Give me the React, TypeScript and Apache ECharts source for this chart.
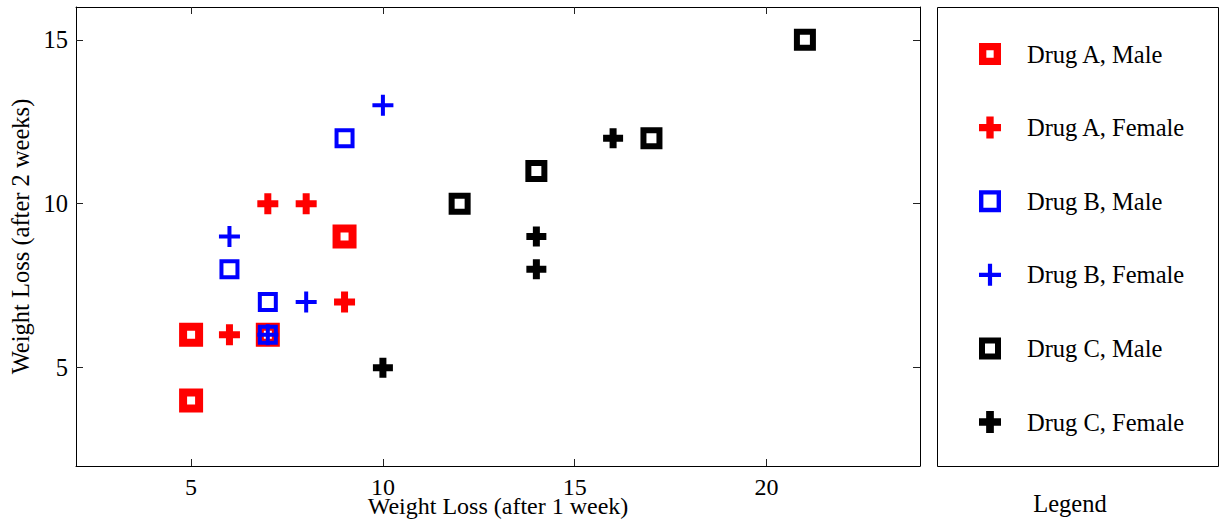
import React, { useEffect, useRef } from "react";
import * as echarts from "echarts";

const seriesNames = [
  "Drug A, Male",
  "Drug A, Female",
  "Drug B, Male",
  "Drug B, Female",
  "Drug C, Male",
  "Drug C, Female",
];

const drugAMale = [[5, 6], [5, 4], [7, 6], [9, 9]];
const drugAFemale = [[7, 10], [8, 10], [6, 6], [9, 7]];
const drugBMale = [[9, 12], [6, 8], [7, 7], [7, 6]];
const drugBFemale = [[10, 13], [6, 9], [8, 7], [7, 6]];
const drugCMale = [[21, 15], [17, 12], [14, 11], [12, 10]];
const drugCFemale = [[16, 12], [14, 9], [14, 8], [10, 5]];

const xTicks = [5, 10, 15, 20];
const yTicks = [5, 10, 15];

const FONT = "Liberation Serif";
const FS = 24.5;

const SQ_RED = "path://M0,0H24V24H0Z M8,8V16H16V8Z";
const SQ_BLUE = "path://M0,0H20V20H0Z M4,4V16H16V4Z";
const SQ_BLACK = "path://M0,0H22V22H0Z M6,6V16H16V6Z";
const PL_RED = "path://M7,0H14V7H21V14H14V21H7V14H0V7H7Z";
const PL_BLUE = "path://M8.5,0H12.5V8.5H21V12.5H12.5V21H8.5V12.5H0V8.5H8.5Z";
const PL_BLACK = "path://M6.5,0H13.5V6.5H20V13.5H13.5V20H6.5V13.5H0V6.5H6.5Z";

export default function App() {
  const ref = useRef<HTMLDivElement>(null);
  useEffect(() => {
    if (!ref.current) return;
    const chart = echarts.init(ref.current, undefined, { renderer: "svg" });
    const mk = (name: string, data: number[][], symbol: string, size: number, color: string) => ({
      name,
      type: "scatter",
      data,
      symbol,
      symbolSize: size,
      itemStyle: { color, opacity: 1 },
      emphasis: { disabled: true },
    });
    const baseAxisLine = { show: true, lineStyle: { color: "#000", width: 1 } };
    const tickStyle = { inside: true, length: 7, lineStyle: { color: "#222", width: 1 } };
    chart.setOption({
      animation: false,
      backgroundColor: "#fff",
      grid: { left: 76, top: 7, right: 300, bottom: 55, containLabel: false, outerBoundsMode: "none" },
      xAxis: [
        {
          type: "value",
          min: 2,
          max: 24,
          position: "bottom",
          axisLine: baseAxisLine,
          axisTick: { ...tickStyle, customValues: xTicks },
          axisLabel: {
            customValues: xTicks,
            color: "#000",
            fontFamily: FONT,
            fontSize: 24,
            lineHeight: 18,
            margin: 12,
          },
          splitLine: { show: false },
          name: "Weight Loss (after 1 week)",
          nameLocation: "middle",
          nameGap: 31,
          nameMoveOverlap: false,
          nameTextStyle: { color: "#000", fontFamily: FONT, fontSize: 24, lineHeight: 18 },
        },
        {
          type: "value",
          min: 2,
          max: 24,
          position: "top",
          axisLine: baseAxisLine,
          axisTick: { ...tickStyle, customValues: xTicks },
          axisLabel: { show: false },
          splitLine: { show: false },
        },
      ],
      yAxis: [
        {
          type: "value",
          min: 2,
          max: 16,
          position: "left",
          axisLine: baseAxisLine,
          axisTick: { ...tickStyle, customValues: yTicks },
          axisLabel: { customValues: yTicks, color: "#000", fontFamily: FONT, fontSize: FS, margin: 8 },
          splitLine: { show: false },
          name: "Weight Loss (after 2 weeks)",
          nameLocation: "middle",
          nameGap: 35,
          nameTextStyle: { color: "#000", fontFamily: FONT, fontSize: FS },
        },
        {
          type: "value",
          min: 2,
          max: 16,
          position: "right",
          axisLine: baseAxisLine,
          axisTick: { ...tickStyle, customValues: yTicks },
          axisLabel: { show: false },
          splitLine: { show: false },
        },
      ],
      legend: {
        orient: "vertical",
        left: 974,
        top: 36,
        itemWidth: 22,
        itemHeight: 22,
        itemGap: 47.6,
        selectedMode: false,
        data: seriesNames,
        textStyle: { color: "#000", fontFamily: FONT, fontSize: FS, lineHeight: 26, padding: [0, 0, 0, 21] },
      },
      graphic: [
        {
          type: "rect",
          shape: { x: 937.5, y: 7.5, width: 281, height: 459 },
          style: { fill: "none", stroke: "#000", lineWidth: 1 },
        },
        {
          type: "text",
          x: 1070,
          y: 503,
          style: {
            text: "Legend",
            fill: "#000",
            font: `${FS}px ${FONT}`,
            textAlign: "center",
            textVerticalAlign: "middle",
          },
        },
      ],
      series: [
        mk(seriesNames[0], drugAMale, SQ_RED, 24, "#ff0000"),
        mk(seriesNames[1], drugAFemale, PL_RED, 21, "#ff0000"),
        mk(seriesNames[2], drugBMale, SQ_BLUE, 20, "#0000ff"),
        mk(seriesNames[3], drugBFemale, PL_BLUE, 21, "#0000ff"),
        mk(seriesNames[4], drugCMale, SQ_BLACK, 22, "#000000"),
        mk(seriesNames[5], drugCFemale, PL_BLACK, 20, "#000000"),
      ],
    });
    return () => chart.dispose();
  }, []);
  return (
    <div
      ref={ref}
      style={{ position: "fixed", left: 0, top: 0, width: 1220, height: 521, background: "#fff" }}
    />
  );
}
